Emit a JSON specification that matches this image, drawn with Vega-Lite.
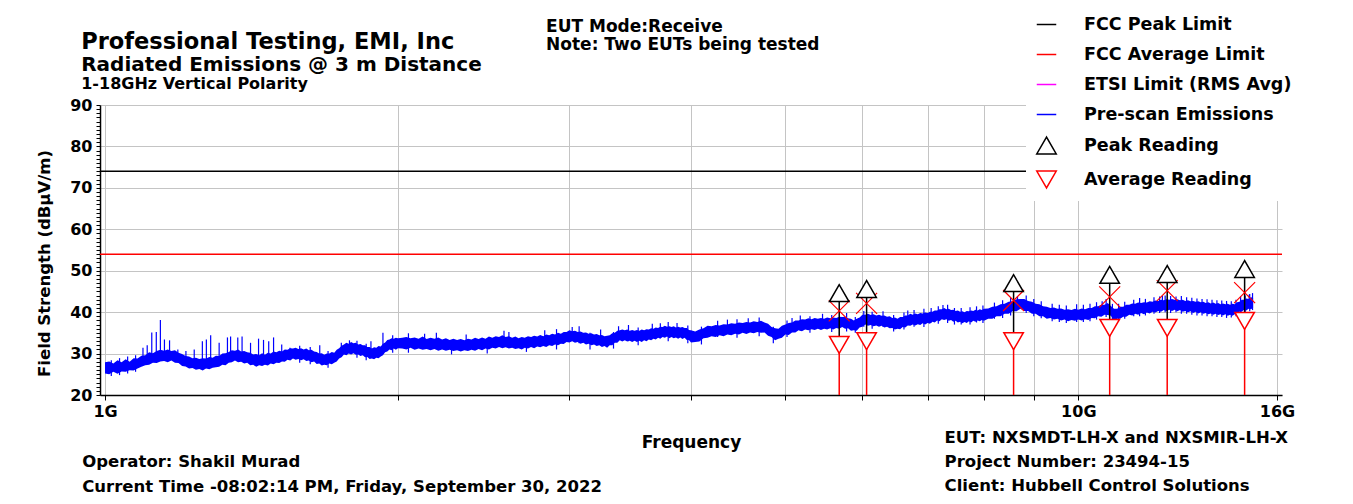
{
"$schema":"https://vega.github.io/schema/vega-lite/v6.json",
"width":1182,"height":290,
"autosize":{"type":"none"},
"padding":{"left":100,"top":105,"right":71,"bottom":109},
"background":"white",
"config":{
 "view":{"stroke":null},
 "font":"DejaVu Sans",
 "axis":{"labelFont":"DejaVu Sans","labelFontWeight":"bold","labelColor":"black","titleFont":"DejaVu Sans","titleFontWeight":"bold","titleColor":"black","domainColor":"black","domainWidth":1.5,"tickColor":"black","gridColor":"#c4c4c4"},
 "legend":{"labelFont":"DejaVu Sans","labelFontWeight":"bold","labelColor":"black","labelFontSize":17.5,"labelLimit":400,"symbolOpacity":1}
},
"datasets":{
"limits":[{"series":"FCC Peak Limit","v":74},{"series":"FCC Average Limit","v":54}],
"readings":[
{"f":5.68,"Peak Reading":44.6,"qp":40.3,"Average Reading":32.1},
{"f":6.06,"Peak Reading":45.6,"qp":42.1,"Average Reading":33.0},
{"f":8.58,"Peak Reading":47.0,"qp":42.8,"Average Reading":33.0},
{"f":10.77,"Peak Reading":49.0,"qp":43.7,"Average Reading":36.2},
{"f":12.34,"Peak Reading":49.2,"qp":45.2,"Average Reading":36.2},
{"f":14.82,"Peak Reading":50.4,"qp":44.7,"Average Reading":37.9}],
"spikes":[
{"f":1.015,"b":24.6,"t":28.4},{"f":1.035,"b":24.8,"t":28.9},{"f":1.055,"b":25.2,"t":29.3},{"f":1.075,"b":25.6,"t":29.6},
{"f":1.094,"b":28.3,"t":31.4},{"f":1.105,"b":28.6,"t":32.0},{"f":1.117,"b":28.9,"t":35.1},{"f":1.129,"b":29.1,"t":35.2},{"f":1.140,"b":29.4,"t":38.1},{"f":1.151,"b":29.5,"t":33.4},{"f":1.165,"b":29.5,"t":33.2},{"f":1.188,"b":29.0,"t":31.0},{"f":1.211,"b":28.2,"t":30.6},{"f":1.235,"b":27.6,"t":31.0},{"f":1.259,"b":27.5,"t":33.0},{"f":1.271,"b":27.5,"t":33.4},{"f":1.284,"b":27.7,"t":34.4},{"f":1.310,"b":28.2,"t":32.6},{"f":1.336,"b":28.8,"t":33.9},{"f":1.346,"b":29.0,"t":34.1},{"f":1.369,"b":29.4,"t":33.9},{"f":1.383,"b":29.2,"t":34.1},{"f":1.411,"b":28.7,"t":32.6},{"f":1.438,"b":28.4,"t":33.6},{"f":1.455,"b":28.5,"t":33.3},{"f":1.473,"b":28.6,"t":33.0},{"f":1.490,"b":28.9,"t":33.9},{"f":1.519,"b":29.4,"t":32.2},{"f":1.549,"b":29.8,"t":31.4},
{"f":1.585,"b":27.8,"t":31.9},{"f":1.625,"b":27.4,"t":31.6},{"f":1.662,"b":28.8,"t":32.0},{"f":1.695,"b":26.6,"t":30.6},{"f":1.749,"b":30.4,"t":32.6},{"f":1.783,"b":31.2,"t":33.2},{"f":1.815,"b":29.0,"t":33.1},{"f":1.855,"b":28.4,"t":32.4},{"f":1.876,"b":30.2,"t":33.0},{"f":1.930,"b":31.0,"t":35.0},{"f":1.975,"b":30.2,"t":34.4},
{"f":2.05,"b":30.2,"t":34.9},{"f":2.13,"b":32.4,"t":34.8},{"f":2.19,"b":31.5,"t":35.0},{"f":2.27,"b":29.8,"t":33.0},{"f":2.35,"b":31.5,"t":34.6},{"f":2.47,"b":30.0,"t":33.5},{"f":2.57,"b":32.0,"t":35.5},{"f":2.60,"b":32.7,"t":35.2},{"f":2.71,"b":30.4,"t":34.0},{"f":2.83,"b":32.0,"t":35.6},{"f":2.91,"b":31.0,"t":35.9},
{"f":3.02,"b":34.2,"t":36.4},{"f":3.07,"b":32.5,"t":36.6},{"f":3.15,"b":31.0,"t":35.0},{"f":3.23,"b":32.0,"t":35.8},{"f":3.33,"b":31.2,"t":35.2},{"f":3.37,"b":34.2,"t":36.6},{"f":3.45,"b":33.0,"t":36.9},{"f":3.53,"b":32.0,"t":36.3},{"f":3.65,"b":33.5,"t":37.2},{"f":3.72,"b":35.1,"t":37.3},{"f":3.79,"b":33.0,"t":37.6},{"f":3.87,"b":34.0,"t":37.4},{"f":3.97,"b":32.5,"t":36.8},
{"f":4.10,"b":32.2,"t":36.5},{"f":4.26,"b":34.0,"t":37.9},{"f":4.36,"b":35.8,"t":38.2},{"f":4.46,"b":33.8,"t":38.3},{"f":4.58,"b":35.0,"t":38.5},{"f":4.70,"b":34.2,"t":38.7},{"f":4.86,"b":32.5,"t":36.5},{"f":5.02,"b":34.0,"t":38.0},{"f":5.08,"b":36.3,"t":38.6},{"f":5.18,"b":35.5,"t":39.2},{"f":5.30,"b":35.0,"t":39.0},{"f":5.46,"b":36.0,"t":39.6},{"f":5.58,"b":35.2,"t":39.3},{"f":5.78,"b":35.3,"t":39.8},{"f":5.90,"b":35.0,"t":38.8},
{"f":6.02,"b":36.5,"t":40.3},{"f":6.14,"b":36.0,"t":40.1},{"f":6.30,"b":36.5,"t":40.2},{"f":6.46,"b":35.3,"t":39.3},{"f":6.62,"b":35.8,"t":39.9},{"f":6.68,"b":38.0,"t":40.4},{"f":6.78,"b":36.5,"t":40.5},{"f":6.94,"b":36.4,"t":40.8},{"f":7.06,"b":37.5,"t":41.0},{"f":7.18,"b":37.2,"t":41.4},{"f":7.26,"b":39.5,"t":41.7},{"f":7.34,"b":37.4,"t":41.8},{"f":7.46,"b":37.0,"t":41.0},{"f":7.58,"b":37.0,"t":41.0},{"f":7.74,"b":37.0,"t":41.2},{"f":7.86,"b":37.5,"t":41.4},{"f":7.98,"b":37.4,"t":41.6},
{"f":8.20,"b":38.4,"t":42.3},{"f":8.36,"b":38.6,"t":42.9},{"f":8.52,"b":39.2,"t":43.4},{"f":8.66,"b":41.6,"t":43.8},{"f":8.84,"b":39.8,"t":44.0},{"f":9.00,"b":39.0,"t":43.2},{"f":9.16,"b":38.5,"t":42.6},{"f":9.40,"b":37.8,"t":42.0},{"f":9.56,"b":37.6,"t":41.8},{"f":9.72,"b":37.4,"t":41.6},{"f":9.96,"b":37.6,"t":41.9},
{"f":10.12,"b":37.6,"t":41.8},{"f":10.28,"b":37.8,"t":42.0},{"f":10.44,"b":38.2,"t":42.4},{"f":10.58,"b":40.4,"t":42.6},{"f":10.68,"b":38.8,"t":43.2},{"f":10.84,"b":37.5,"t":42.0},{"f":11.00,"b":37.8,"t":42.0},{"f":11.16,"b":38.4,"t":42.5},{"f":11.40,"b":39.0,"t":43.0},{"f":11.56,"b":39.0,"t":43.4},{"f":11.72,"b":39.2,"t":43.2},{"f":11.96,"b":39.6,"t":43.6},
{"f":12.12,"b":39.8,"t":43.8},{"f":12.20,"b":41.6,"t":43.9},{"f":12.28,"b":40.0,"t":44.0},{"f":12.44,"b":39.8,"t":43.9},{"f":12.60,"b":40.0,"t":43.8},{"f":12.76,"b":39.6,"t":43.9},{"f":12.92,"b":39.6,"t":43.6},{"f":13.08,"b":39.4,"t":43.5},{"f":13.24,"b":39.2,"t":43.3},{"f":13.40,"b":39.2,"t":43.2},{"f":13.56,"b":39.0,"t":43.1},{"f":13.72,"b":39.0,"t":43.0},{"f":13.88,"b":38.8,"t":42.9},
{"f":14.04,"b":38.8,"t":42.8},{"f":14.20,"b":38.6,"t":42.7},{"f":14.36,"b":38.7,"t":42.6},{"f":14.52,"b":39.0,"t":43.0},{"f":14.68,"b":39.6,"t":43.8},{"f":14.84,"b":40.0,"t":44.0},{"f":14.98,"b":42.0,"t":44.2},{"f":15.00,"b":40.2,"t":44.4},{"f":15.10,"b":40.5,"t":44.6}],
"trace":[
{"f":1.00,"l":25.2,"h":27.9},{"f":1.01,"l":25.0,"h":28.1},{"f":1.02,"l":25.6,"h":27.6},{"f":1.03,"l":25.1,"h":28.4},{"f":1.04,"l":25.7,"h":27.9},{"f":1.05,"l":25.6,"h":28.6},{"f":1.06,"l":26.0,"h":28.0},{"f":1.07,"l":25.9,"h":28.9},{"f":1.08,"l":26.4,"h":28.8},{"f":1.09,"l":26.8,"h":29.5},
{"f":1.10,"l":27.2,"h":29.6},{"f":1.11,"l":27.3,"h":30.3},{"f":1.12,"l":27.8,"h":30.1},{"f":1.13,"l":27.7,"h":30.6},{"f":1.14,"l":28.1,"h":30.9},{"f":1.15,"l":28.2,"h":30.7},{"f":1.16,"l":27.9,"h":31.0},{"f":1.17,"l":28.3,"h":30.6},{"f":1.18,"l":27.8,"h":30.8},{"f":1.19,"l":27.7,"h":30.2},
{"f":1.20,"l":27.0,"h":29.9},{"f":1.21,"l":26.9,"h":29.4},{"f":1.22,"l":26.4,"h":29.3},{"f":1.23,"l":26.5,"h":28.9},{"f":1.24,"l":26.1,"h":29.0},{"f":1.25,"l":26.3,"h":28.7},{"f":1.26,"l":25.9,"h":28.9},{"f":1.27,"l":26.4,"h":28.8},{"f":1.28,"l":26.2,"h":29.2},{"f":1.29,"l":26.6,"h":29.0},
{"f":1.30,"l":26.7,"h":29.5},{"f":1.31,"l":26.8,"h":29.4},{"f":1.32,"l":27.3,"h":30.0},{"f":1.33,"l":27.2,"h":30.1},{"f":1.34,"l":27.8,"h":30.4},{"f":1.35,"l":27.9,"h":30.8},{"f":1.36,"l":28.3,"h":30.7},{"f":1.37,"l":27.9,"h":31.0},{"f":1.38,"l":28.0,"h":30.5},{"f":1.39,"l":27.6,"h":30.6},
{"f":1.40,"l":27.8,"h":30.3},{"f":1.41,"l":27.2,"h":30.2},{"f":1.42,"l":27.3,"h":29.8},{"f":1.43,"l":26.8,"h":29.9},{"f":1.44,"l":27.2,"h":29.6},{"f":1.45,"l":27.0,"h":30.1},{"f":1.46,"l":27.3,"h":29.7},{"f":1.47,"l":27.1,"h":30.2},{"f":1.48,"l":27.6,"h":30.0},{"f":1.49,"l":27.4,"h":30.5},
{"f":1.50,"l":27.8,"h":30.3},{"f":1.51,"l":27.7,"h":30.7},{"f":1.52,"l":28.1,"h":30.5},{"f":1.53,"l":28.0,"h":31.0},{"f":1.54,"l":28.5,"h":30.9},{"f":1.55,"l":28.3,"h":31.3},{"f":1.56,"l":28.8,"h":31.2},{"f":1.57,"l":28.5,"h":31.4},{"f":1.58,"l":28.7,"h":31.1},{"f":1.59,"l":28.4,"h":31.3},
{"f":1.60,"l":28.6,"h":31.0},{"f":1.61,"l":28.2,"h":31.2},{"f":1.62,"l":28.3,"h":30.8},{"f":1.63,"l":27.9,"h":30.9},{"f":1.64,"l":28.1,"h":30.5},{"f":1.65,"l":27.5,"h":30.4},{"f":1.66,"l":27.6,"h":30.0},{"f":1.67,"l":27.1,"h":30.1},{"f":1.68,"l":27.3,"h":29.7},{"f":1.69,"l":27.2,"h":30.0},
{"f":1.70,"l":27.6,"h":30.0},{"f":1.71,"l":27.4,"h":30.4},{"f":1.72,"l":27.8,"h":30.2},{"f":1.73,"l":28.1,"h":30.9},{"f":1.74,"l":28.8,"h":31.3},{"f":1.75,"l":29.1,"h":31.9},{"f":1.76,"l":29.8,"h":32.2},{"f":1.77,"l":29.6,"h":32.6},{"f":1.78,"l":30.0,"h":32.4},{"f":1.79,"l":29.8,"h":32.8},
{"f":1.80,"l":30.1,"h":32.5},{"f":1.81,"l":29.7,"h":32.6},{"f":1.82,"l":29.8,"h":32.2},{"f":1.83,"l":29.4,"h":32.3},{"f":1.84,"l":29.6,"h":32.0},{"f":1.85,"l":29.1,"h":32.0},{"f":1.86,"l":29.2,"h":31.6},{"f":1.87,"l":28.7,"h":31.6},{"f":1.88,"l":28.8,"h":31.2},{"f":1.89,"l":28.6,"h":31.5},
{"f":1.90,"l":29.0,"h":31.4},{"f":1.91,"l":28.9,"h":31.8},{"f":1.92,"l":29.3,"h":31.7},{"f":1.93,"l":29.6,"h":32.4},{"f":1.94,"l":30.3,"h":32.7},{"f":1.95,"l":30.5,"h":33.3},{"f":1.96,"l":31.0,"h":33.4},{"f":1.97,"l":30.8,"h":33.7},{"f":1.98,"l":31.2,"h":33.6},{"f":1.99,"l":30.9,"h":33.8},
{"f":2.00,"l":31.3,"h":33.7},
{"f":2.02,"l":31.2,"h":33.8},{"f":2.04,"l":31.0,"h":34.0},{"f":2.06,"l":31.4,"h":33.7},{"f":2.08,"l":30.9,"h":33.9},{"f":2.10,"l":31.2,"h":33.6},{"f":2.12,"l":30.9,"h":34.1},{"f":2.14,"l":31.1,"h":33.5},{"f":2.16,"l":30.8,"h":33.8},{"f":2.18,"l":31.1,"h":33.6},{"f":2.20,"l":30.7,"h":33.9},
{"f":2.22,"l":31.0,"h":33.4},{"f":2.24,"l":30.7,"h":33.7},{"f":2.26,"l":30.9,"h":33.3},{"f":2.28,"l":30.6,"h":33.6},{"f":2.30,"l":30.8,"h":33.3},{"f":2.32,"l":30.5,"h":33.5},{"f":2.34,"l":30.8,"h":33.2},{"f":2.36,"l":30.6,"h":33.6},{"f":2.38,"l":30.9,"h":33.4},{"f":2.40,"l":30.7,"h":33.8},
{"f":2.42,"l":31.1,"h":33.5},{"f":2.44,"l":30.8,"h":33.9},{"f":2.46,"l":31.2,"h":33.6},{"f":2.48,"l":31.0,"h":34.1},{"f":2.50,"l":31.4,"h":33.8},{"f":2.52,"l":31.2,"h":34.2},{"f":2.54,"l":31.6,"h":34.0},{"f":2.56,"l":31.3,"h":34.4},{"f":2.58,"l":31.5,"h":34.0},{"f":2.60,"l":31.2,"h":34.2},
{"f":2.62,"l":31.4,"h":33.8},{"f":2.64,"l":31.1,"h":34.1},{"f":2.66,"l":31.3,"h":33.7},{"f":2.68,"l":31.0,"h":34.0},{"f":2.70,"l":31.4,"h":33.8},{"f":2.72,"l":31.2,"h":34.2},{"f":2.74,"l":31.6,"h":34.0},{"f":2.76,"l":31.3,"h":34.3},{"f":2.78,"l":31.7,"h":34.1},{"f":2.80,"l":31.5,"h":34.5},
{"f":2.82,"l":31.8,"h":34.2},{"f":2.84,"l":31.6,"h":34.6},{"f":2.86,"l":32.0,"h":34.4},{"f":2.88,"l":31.8,"h":34.8},{"f":2.90,"l":32.2,"h":34.6},{"f":2.92,"l":32.0,"h":35.0},{"f":2.94,"l":32.4,"h":34.8},{"f":2.96,"l":32.3,"h":35.2},{"f":2.98,"l":32.8,"h":35.2},{"f":3.00,"l":32.7,"h":35.6},
{"f":3.02,"l":33.0,"h":35.4},{"f":3.04,"l":32.6,"h":35.5},{"f":3.06,"l":32.8,"h":35.2},{"f":3.08,"l":32.4,"h":35.3},{"f":3.10,"l":32.6,"h":35.0},{"f":3.12,"l":32.2,"h":35.1},{"f":3.14,"l":32.4,"h":34.8},{"f":3.16,"l":32.0,"h":34.9},{"f":3.18,"l":32.2,"h":34.6},{"f":3.20,"l":31.8,"h":34.7},
{"f":3.22,"l":32.0,"h":34.4},{"f":3.24,"l":31.6,"h":34.5},{"f":3.26,"l":31.8,"h":34.2},{"f":3.28,"l":31.4,"h":34.3},{"f":3.30,"l":32.0,"h":34.4},{"f":3.32,"l":32.0,"h":34.9},{"f":3.34,"l":32.6,"h":35.0},{"f":3.36,"l":32.6,"h":35.5},{"f":3.38,"l":33.2,"h":35.6},{"f":3.40,"l":32.9,"h":35.8},
{"f":3.42,"l":33.2,"h":35.6},{"f":3.44,"l":32.9,"h":35.8},{"f":3.46,"l":33.1,"h":35.5},{"f":3.48,"l":32.8,"h":35.7},{"f":3.50,"l":33.1,"h":35.5},{"f":3.52,"l":32.8,"h":35.7},{"f":3.54,"l":33.1,"h":35.5},{"f":3.56,"l":32.8,"h":35.8},{"f":3.58,"l":33.2,"h":35.6},{"f":3.60,"l":33.0,"h":35.9},
{"f":3.62,"l":33.4,"h":35.8},{"f":3.64,"l":33.2,"h":36.1},{"f":3.66,"l":33.6,"h":36.0},{"f":3.68,"l":33.4,"h":36.3},{"f":3.70,"l":33.8,"h":36.2},{"f":3.72,"l":33.6,"h":36.5},{"f":3.74,"l":34.0,"h":36.4},{"f":3.76,"l":33.8,"h":36.7},{"f":3.78,"l":34.1,"h":36.5},{"f":3.80,"l":33.7,"h":36.6},
{"f":3.82,"l":34.0,"h":36.4},{"f":3.84,"l":33.7,"h":36.6},{"f":3.86,"l":33.9,"h":36.3},{"f":3.88,"l":33.6,"h":36.5},{"f":3.90,"l":33.9,"h":36.3},{"f":3.92,"l":33.5,"h":36.4},{"f":3.94,"l":33.8,"h":36.2},{"f":3.96,"l":33.3,"h":36.2},{"f":3.98,"l":33.3,"h":35.7},{"f":4.00,"l":32.7,"h":35.6},
{"f":4.04,"l":32.8,"h":35.3},{"f":4.08,"l":32.9,"h":35.8},{"f":4.12,"l":33.7,"h":36.1},{"f":4.16,"l":33.8,"h":36.7},{"f":4.20,"l":34.2,"h":36.6},{"f":4.24,"l":34.0,"h":36.9},{"f":4.28,"l":34.4,"h":36.8},{"f":4.32,"l":34.2,"h":37.1},{"f":4.36,"l":34.6,"h":37.0},{"f":4.40,"l":34.4,"h":37.3},
{"f":4.44,"l":34.8,"h":37.2},{"f":4.48,"l":34.6,"h":37.5},{"f":4.52,"l":35.0,"h":37.4},{"f":4.56,"l":34.7,"h":37.6},{"f":4.60,"l":35.1,"h":37.5},{"f":4.64,"l":34.9,"h":37.8},{"f":4.68,"l":35.2,"h":37.6},{"f":4.72,"l":35.0,"h":37.9},{"f":4.76,"l":35.1,"h":37.5},{"f":4.80,"l":34.3,"h":37.2},
{"f":4.84,"l":34.0,"h":36.4},{"f":4.88,"l":33.2,"h":36.1},{"f":4.92,"l":33.6,"h":36.0},{"f":4.96,"l":33.8,"h":36.7},{"f":5.00,"l":34.6,"h":37.0},{"f":5.04,"l":34.5,"h":37.4},{"f":5.08,"l":35.1,"h":37.5},{"f":5.12,"l":35.1,"h":38.0},{"f":5.16,"l":35.6,"h":38.0},{"f":5.20,"l":35.4,"h":38.3},
{"f":5.24,"l":35.8,"h":38.2},{"f":5.28,"l":35.6,"h":38.5},{"f":5.32,"l":35.9,"h":38.3},{"f":5.36,"l":35.7,"h":38.6},{"f":5.40,"l":36.0,"h":38.4},{"f":5.44,"l":35.7,"h":38.6},{"f":5.48,"l":36.0,"h":38.4},{"f":5.52,"l":35.8,"h":38.7},{"f":5.56,"l":36.1,"h":38.5},{"f":5.60,"l":35.8,"h":38.7},
{"f":5.64,"l":36.2,"h":38.6},{"f":5.68,"l":36.0,"h":38.9},{"f":5.72,"l":36.4,"h":38.8},{"f":5.76,"l":36.0,"h":38.9},{"f":5.80,"l":36.1,"h":38.5},{"f":5.84,"l":35.5,"h":38.4},{"f":5.88,"l":35.6,"h":38.0},{"f":5.92,"l":35.5,"h":38.4},{"f":5.96,"l":36.3,"h":38.7},{"f":6.00,"l":36.5,"h":39.4},
{"f":6.04,"l":37.0,"h":39.4},{"f":6.08,"l":36.7,"h":39.6},{"f":6.12,"l":36.9,"h":39.3},{"f":6.16,"l":36.6,"h":39.5},{"f":6.20,"l":36.8,"h":39.2},{"f":6.24,"l":36.5,"h":39.4},{"f":6.28,"l":36.7,"h":39.1},{"f":6.32,"l":36.3,"h":39.2},{"f":6.36,"l":36.5,"h":38.9},{"f":6.40,"l":36.1,"h":39.0},
{"f":6.44,"l":36.2,"h":38.6},{"f":6.48,"l":35.8,"h":38.7},{"f":6.52,"l":36.0,"h":38.4},{"f":6.56,"l":35.9,"h":38.8},{"f":6.60,"l":36.4,"h":38.8},{"f":6.64,"l":36.3,"h":39.2},{"f":6.68,"l":36.8,"h":39.2},{"f":6.72,"l":36.7,"h":39.6},{"f":6.76,"l":37.0,"h":39.4},{"f":6.80,"l":36.8,"h":39.7},
{"f":6.84,"l":37.1,"h":39.5},{"f":6.88,"l":36.9,"h":39.8},{"f":6.92,"l":37.3,"h":39.7},{"f":6.96,"l":37.0,"h":39.9},{"f":7.00,"l":37.4,"h":39.8},{"f":7.04,"l":37.2,"h":40.1},{"f":7.08,"l":37.7,"h":40.1},{"f":7.12,"l":37.5,"h":40.4},{"f":7.16,"l":38.0,"h":40.4},{"f":7.20,"l":37.8,"h":40.7},
{"f":7.24,"l":38.3,"h":40.7},{"f":7.28,"l":38.1,"h":41.0},{"f":7.32,"l":38.3,"h":40.7},{"f":7.36,"l":37.9,"h":40.8},{"f":7.40,"l":38.1,"h":40.5},{"f":7.44,"l":37.7,"h":40.6},{"f":7.48,"l":37.9,"h":40.3},{"f":7.52,"l":37.5,"h":40.4},{"f":7.56,"l":37.7,"h":40.1},{"f":7.60,"l":37.3,"h":40.2},
{"f":7.64,"l":37.6,"h":40.0},{"f":7.68,"l":37.4,"h":40.3},{"f":7.72,"l":37.8,"h":40.2},{"f":7.76,"l":37.5,"h":40.4},{"f":7.80,"l":37.9,"h":40.3},{"f":7.84,"l":37.7,"h":40.6},{"f":7.88,"l":38.0,"h":40.4},{"f":7.92,"l":37.8,"h":40.7},{"f":7.96,"l":38.1,"h":40.5},{"f":8.00,"l":37.9,"h":40.8},
{"f":8.08,"l":38.4,"h":40.9},{"f":8.16,"l":38.4,"h":41.3},{"f":8.24,"l":39.0,"h":41.4},{"f":8.32,"l":39.0,"h":41.9},{"f":8.40,"l":39.6,"h":42.0},{"f":8.48,"l":39.6,"h":42.5},{"f":8.56,"l":40.2,"h":42.6},{"f":8.64,"l":40.2,"h":43.1},{"f":8.72,"l":40.8,"h":43.2},{"f":8.80,"l":40.3,"h":43.2},
{"f":8.88,"l":40.3,"h":42.7},{"f":8.96,"l":39.6,"h":42.5},{"f":9.04,"l":39.6,"h":42.0},{"f":9.12,"l":39.0,"h":41.9},{"f":9.20,"l":39.0,"h":41.4},{"f":9.28,"l":38.4,"h":41.3},{"f":9.36,"l":38.6,"h":41.0},{"f":9.44,"l":38.2,"h":41.1},{"f":9.52,"l":38.4,"h":40.8},{"f":9.60,"l":38.0,"h":40.9},
{"f":9.68,"l":38.2,"h":40.6},{"f":9.76,"l":37.8,"h":40.7},{"f":9.84,"l":38.1,"h":40.5},{"f":9.92,"l":37.9,"h":40.8},{"f":10.00,"l":38.2,"h":40.6},{"f":10.08,"l":38.0,"h":40.9},{"f":10.16,"l":38.3,"h":40.7},{"f":10.24,"l":38.1,"h":41.0},{"f":10.32,"l":38.6,"h":41.0},{"f":10.40,"l":38.5,"h":41.4},
{"f":10.48,"l":39.0,"h":41.4},{"f":10.56,"l":38.9,"h":41.8},{"f":10.64,"l":39.4,"h":41.8},{"f":10.72,"l":39.3,"h":42.2},{"f":10.80,"l":39.1,"h":41.5},{"f":10.88,"l":37.9,"h":40.8},{"f":10.96,"l":38.4,"h":40.8},{"f":11.04,"l":38.4,"h":41.3},{"f":11.12,"l":38.9,"h":41.3},{"f":11.20,"l":38.9,"h":41.8},
{"f":11.28,"l":39.4,"h":41.8},{"f":11.36,"l":39.2,"h":42.1},{"f":11.44,"l":39.6,"h":42.0},{"f":11.52,"l":39.4,"h":42.3},{"f":11.60,"l":39.8,"h":42.2},{"f":11.68,"l":39.5,"h":42.4},{"f":11.76,"l":39.9,"h":42.3},{"f":11.84,"l":39.7,"h":42.6},{"f":11.92,"l":40.1,"h":42.5},{"f":12.00,"l":39.9,"h":42.8},
{"f":12.08,"l":40.3,"h":42.7},{"f":12.16,"l":40.1,"h":43.0},{"f":12.24,"l":40.5,"h":42.9},{"f":12.32,"l":40.2,"h":43.1},{"f":12.40,"l":40.6,"h":43.0},{"f":12.48,"l":40.3,"h":43.2},{"f":12.56,"l":40.6,"h":43.0},{"f":12.64,"l":40.2,"h":43.1},{"f":12.72,"l":40.5,"h":42.9},{"f":12.80,"l":40.1,"h":43.0},
{"f":12.88,"l":40.3,"h":42.7},{"f":12.96,"l":40.0,"h":42.9},{"f":13.04,"l":40.2,"h":42.6},{"f":13.12,"l":39.8,"h":42.7},{"f":13.20,"l":40.1,"h":42.5},{"f":13.28,"l":39.7,"h":42.6},{"f":13.36,"l":40.0,"h":42.4},{"f":13.44,"l":39.6,"h":42.5},{"f":13.52,"l":39.8,"h":42.2},{"f":13.60,"l":39.5,"h":42.4},
{"f":13.68,"l":39.7,"h":42.1},{"f":13.76,"l":39.4,"h":42.3},{"f":13.84,"l":39.6,"h":42.0},{"f":13.92,"l":39.3,"h":42.2},{"f":14.00,"l":39.5,"h":41.9},{"f":14.08,"l":39.2,"h":42.1},{"f":14.16,"l":39.5,"h":41.9},{"f":14.24,"l":39.1,"h":42.0},{"f":14.32,"l":39.4,"h":41.8},{"f":14.40,"l":39.1,"h":42.0},
{"f":14.48,"l":39.5,"h":41.9},{"f":14.56,"l":39.5,"h":42.4},{"f":14.64,"l":40.1,"h":42.5},{"f":14.72,"l":40.1,"h":43.0},{"f":14.80,"l":40.6,"h":43.0},{"f":14.88,"l":40.4,"h":43.3},{"f":14.96,"l":40.8,"h":43.2},{"f":15.04,"l":40.7,"h":43.6},{"f":15.12,"l":41.0,"h":43.5}]
},
"layer":[
{"data":{"name":"limits"},"mark":{"type":"rule","strokeWidth":1.5},
 "encoding":{
  "y":{"field":"v","type":"quantitative","scale":{"domain":[20,90],"nice":false,"zero":false},
   "axis":{"values":[20,21,22,23,24,25,26,27,28,29,30,31,32,33,34,35,36,37,38,39,40,41,42,43,44,45,46,47,48,49,50,51,52,53,54,55,56,57,58,59,60,61,62,63,64,65,66,67,68,69,70,71,72,73,74,75,76,77,78,79,80,81,82,83,84,85,86,87,88,89,90],
    "tickCount":200,"format":"d",
    "labelExpr":"datum.value % 10 === 0 ? datum.label : ''","labelOverlap":false,"labelFontSize":16,"labelPadding":4,"tickSize":4,
    "gridOpacity":{"condition":{"test":"datum.value % 10 === 0","value":1},"value":0},
    "title":"Field Strength (dBµV/m)","titleFontSize":16.5,"titleAngle":270,"titleAlign":"center","titleBaseline":"middle","titleX":-56,"titleY":158}},
  "color":{"field":"series","type":"nominal",
   "scale":{"domain":["FCC Peak Limit","FCC Average Limit","ETSI Limit (RMS Avg)","Pre-scan Emissions","Peak Reading","Average Reading"],"range":["#000000","#ff0000","#ff00ff","#0000ff","#000000","#ff0000"]},
   "legend":{"title":null,"orient":"none","legendX":926,"legendY":-101,"fillColor":"white","padding":10,"rowPadding":11,"symbolSize":380,"symbolStrokeWidth":1.5,"labelOffset":27}}}},
{"data":{"name":"trace"},"mark":{"type":"area","opacity":1,"color":"#0000ff"},
 "encoding":{
  "x":{"field":"f","type":"quantitative","scale":{"type":"log","domain":[1,16],"nice":false},
   "axis":{"values":[1,2,3,4,5,6,7,8,9,10,16],"tickCount":200,"labelExpr":"datum.value == 1 ? '1G' : datum.value == 10 ? '10G' : datum.value == 16 ? '16G' : ''",
    "labelFlush":false,"labelOverlap":false,"labelBound":false,"labelFontSize":16,"labelPadding":3,"tickSize":5,
    "title":"Frequency","titleFontSize":17,"titleY":52,"titleBaseline":"alphabetic"}},
  "y":{"field":"l","type":"quantitative"},"y2":{"field":"h"}}},
{"data":{"name":"spikes"},"mark":{"type":"rule","strokeWidth":1.2,"color":"#0000ff"},
 "encoding":{"x":{"field":"f","type":"quantitative"},"y":{"field":"b","type":"quantitative"},"y2":{"field":"t"}}},
{"data":{"name":"readings"},"mark":{"type":"bar","color":"#ff0000","size":1.5,"orient":"vertical"},
 "encoding":{"x":{"field":"f","type":"quantitative"},"y":{"field":"Average Reading","type":"quantitative","stack":null}}},
{"data":{"name":"readings"},"mark":{"type":"rule","color":"#000000","strokeWidth":1.5},
 "encoding":{"x":{"field":"f","type":"quantitative"},"y":{"field":"Average Reading","type":"quantitative"},"y2":{"field":"Peak Reading"}}},
{"data":{"name":"readings"},"mark":{"type":"point","shape":"M-1,-1L1,1M1,-1L-1,1","size":441,"filled":false,"stroke":"#ff0000","strokeWidth":1.2,"opacity":1},
 "encoding":{"x":{"field":"f","type":"quantitative"},"y":{"field":"qp","type":"quantitative"}}},
{"data":{"name":"readings"},"transform":[{"fold":["Peak Reading","Average Reading"],"as":["series","v"]}],
 "mark":{"type":"point","filled":false,"fill":"white","strokeWidth":1.5,"size":380,"opacity":1},
 "encoding":{"x":{"field":"f","type":"quantitative"},"y":{"field":"v","type":"quantitative"},"color":{"field":"series","type":"nominal"},
  "shape":{"field":"series","type":"nominal","scale":{"domain":["FCC Peak Limit","FCC Average Limit","ETSI Limit (RMS Avg)","Pre-scan Emissions","Peak Reading","Average Reading"],"range":["stroke","stroke","stroke","stroke","triangle-up","triangle-down"]}}}},
{"data":{"values":[{}]},"mark":{"type":"text","align":"left","baseline":"alphabetic","font":"DejaVu Sans","fontWeight":"bold","fontSize":22.5,"color":"black"},
 "encoding":{"x":{"datum":0.9453,"type":"quantitative"},"y":{"datum":103.52,"type":"quantitative"},"text":{"value":"Professional Testing, EMI, Inc"}}},
{"data":{"values":[{}]},"mark":{"type":"text","align":"left","baseline":"alphabetic","font":"DejaVu Sans","fontWeight":"bold","fontSize":20,"color":"black"},
 "encoding":{"x":{"datum":0.9453,"type":"quantitative"},"y":{"datum":98.09,"type":"quantitative"},"text":{"value":"Radiated Emissions @ 3 m Distance"}}},
{"data":{"values":[{}]},"mark":{"type":"text","align":"left","baseline":"alphabetic","font":"DejaVu Sans","fontWeight":"bold","fontSize":16,"color":"black"},
 "encoding":{"x":{"datum":0.9453,"type":"quantitative"},"y":{"datum":93.86,"type":"quantitative"},"text":{"value":"1-18GHz Vertical Polarity"}}},
{"data":{"values":[{}]},"mark":{"type":"text","align":"left","baseline":"alphabetic","font":"DejaVu Sans","fontWeight":"bold","fontSize":17,"lineHeight":18,"lineBreak":"\n","color":"black"},
 "encoding":{"x":{"datum":2.839,"type":"quantitative"},"y":{"datum":107.62,"type":"quantitative"},"text":{"value":"EUT Mode:Receive\nNote: Two EUTs being tested"}}},
{"data":{"values":[{}]},"mark":{"type":"text","align":"left","baseline":"alphabetic","font":"DejaVu Sans","fontWeight":"bold","fontSize":16.5,"lineHeight":25,"lineBreak":"\n","color":"black"},
 "encoding":{"x":{"datum":0.9475,"type":"quantitative"},"y":{"datum":2.62,"type":"quantitative"},"text":{"value":"Operator: Shakil Murad\nCurrent Time -08:02:14 PM, Friday, September 30, 2022"}}},
{"data":{"values":[{}]},"mark":{"type":"text","align":"left","baseline":"alphabetic","font":"DejaVu Sans","fontWeight":"bold","fontSize":16.5,"lineHeight":24,"lineBreak":"\n","color":"black"},
 "encoding":{"x":{"datum":7.288,"type":"quantitative"},"y":{"datum":8.41,"type":"quantitative"},"text":{"value":"EUT: NXSMDT-LH-X and NXSMIR-LH-X\nProject Number: 23494-15\nClient: Hubbell Control Solutions"}}}
]
}
